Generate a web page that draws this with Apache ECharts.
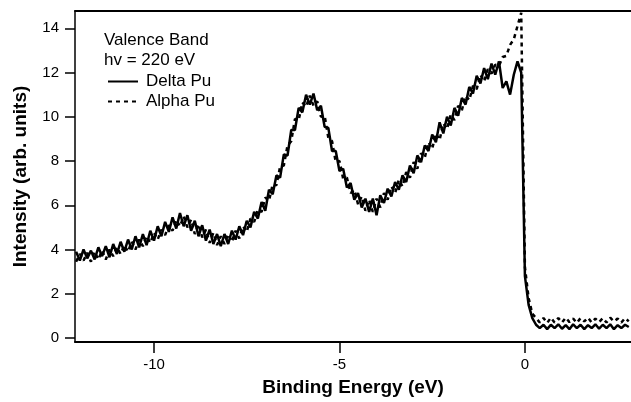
<!DOCTYPE html>
<html>
<head>
<meta charset="utf-8">
<script src="https://cdn.jsdelivr.net/npm/echarts@6/dist/echarts.min.js"></script>
<style>
  html, body { margin: 0; padding: 0; background: #fff; }
  #main { width: 631px; height: 402px; }
</style>
</head>
<body>
<div id="main"></div>
<script>
// binding energy grid (eV)
const energy = [
  -12.1, -12.0, -11.9, -11.8, -11.7, -11.6, -11.5, -11.4, -11.3, -11.2,
  -11.1, -11.0, -10.9, -10.8, -10.7, -10.6, -10.5, -10.4, -10.3, -10.2,
  -10.1, -10.0, -9.9, -9.8, -9.7, -9.6, -9.5, -9.4, -9.3, -9.2,
  -9.1, -9.0, -8.9, -8.8, -8.7, -8.6, -8.5, -8.4, -8.3, -8.2,
  -8.1, -8.0, -7.9, -7.8, -7.7, -7.6, -7.5, -7.4, -7.3, -7.2,
  -7.1, -7.0, -6.9, -6.8, -6.7, -6.6, -6.5, -6.4, -6.3, -6.2,
  -6.1, -6.0, -5.9, -5.8, -5.7, -5.6, -5.5, -5.4, -5.3, -5.2,
  -5.1, -5.0, -4.9, -4.8, -4.7, -4.6, -4.5, -4.4, -4.3, -4.2,
  -4.1, -4.0, -3.9, -3.8, -3.7, -3.6, -3.5, -3.4, -3.3, -3.2,
  -3.1, -3.0, -2.9, -2.8, -2.7, -2.6, -2.5, -2.4, -2.3, -2.2,
  -2.1, -2.0, -1.9, -1.8, -1.7, -1.6, -1.5, -1.4, -1.3, -1.2,
  -1.1, -1.0, -0.9, -0.8, -0.7, -0.6, -0.5, -0.4, -0.3, -0.2,
  -0.1, 0.0, 0.1, 0.2, 0.3, 0.4, 0.5, 0.6, 0.7, 0.8,
  0.9, 1.0, 1.1, 1.2, 1.3, 1.4, 1.5, 1.6, 1.7, 1.8,
  1.9, 2.0, 2.1, 2.2, 2.3, 2.4, 2.5, 2.6, 2.7, 2.8
];

// Delta Pu intensity (solid)
const deltaPu = [
  3.9, 3.5, 4.0, 3.6, 3.95, 3.55, 4.1, 3.7, 4.15, 3.65,
  4.25, 3.8, 4.35, 3.9, 4.45, 4.0, 4.6, 4.1, 4.7, 4.2,
  4.85, 4.4, 5.05, 4.6, 5.25, 4.8, 5.45, 4.95, 5.65, 5.05,
  5.55, 4.85, 5.3, 4.6, 5.1, 4.4, 4.9, 4.25, 4.7, 4.15,
  4.7, 4.25, 4.85, 4.45, 5.05, 4.65, 5.3, 5.0, 5.7, 5.4,
  6.15, 5.75, 6.7, 6.5, 7.35, 7.25, 8.3, 8.25, 9.4, 9.4,
  10.4, 10.2, 11.0, 10.55, 11.05, 10.3, 10.5, 9.55, 9.5, 8.45,
  8.45, 7.55, 7.65, 6.8, 7.0, 6.25, 6.55, 5.9, 6.3, 5.7,
  6.3, 5.55, 6.45, 6.1, 6.75, 6.4, 7.05, 6.7, 7.35, 7.05,
  7.8, 7.45, 8.25, 7.95, 8.7, 8.45, 9.2, 8.85, 9.75, 9.25,
  10.0, 9.6, 10.4, 10.05, 10.85, 10.55, 11.35, 11.05, 11.85, 11.5,
  12.2, 11.7, 12.4, 11.9, 12.5, 11.3, 11.6, 11.0, 11.9, 12.5,
  12.0, 2.8, 1.5, 0.9, 0.6, 0.45, 0.6, 0.4, 0.6, 0.45,
  0.62, 0.42, 0.58, 0.4, 0.62, 0.45, 0.6, 0.4, 0.58, 0.45,
  0.62, 0.42, 0.6, 0.45, 0.62, 0.4, 0.58, 0.45, 0.6, 0.5
];

// Alpha Pu intensity (dashed)
const alphaPu = [
  3.45, 3.8, 3.5, 3.85, 3.45, 3.9, 3.55, 3.95, 3.55, 4.0,
  3.7, 4.1, 3.8, 4.2, 3.9, 4.35, 4.0, 4.45, 4.15, 4.6,
  4.3, 4.75, 4.45, 4.9, 4.65, 5.1, 4.85, 5.35, 5.05, 5.5,
  5.0, 5.35, 4.7, 5.15, 4.55, 4.9, 4.3, 4.75, 4.2, 4.6,
  4.25, 4.7, 4.35, 4.85, 4.5, 5.05, 4.8, 5.4, 5.25, 5.8,
  5.7, 6.35, 6.2, 6.95, 6.9, 7.75, 7.8, 8.7, 8.9, 9.9,
  9.85, 10.65, 10.45, 10.95, 10.5, 10.7, 10.0, 10.05, 9.05, 8.9,
  7.95, 8.0, 7.2, 7.25, 6.55, 6.7, 6.05, 6.4, 5.75, 6.25,
  5.7, 6.3, 5.9, 6.55, 6.25, 6.85, 6.55, 7.15, 6.85, 7.5,
  7.25, 7.95, 7.65, 8.35, 8.15, 8.85, 8.55, 9.25, 8.95, 9.7,
  9.45, 10.1, 9.85, 10.5, 10.3, 10.95, 10.75, 11.4, 11.25, 11.9,
  11.6, 12.15, 11.95, 12.35, 12.3, 12.7, 12.75, 13.25, 13.5, 14.1,
  14.7, 3.2, 1.8, 1.1, 0.9, 0.7, 0.9, 0.68, 0.92, 0.7,
  0.9, 0.7, 0.92, 0.72, 0.88, 0.68, 0.9, 0.75, 0.92, 0.7,
  0.88, 0.72, 0.9, 0.7, 0.92, 0.75, 0.88, 0.7, 0.9, 0.75
];

const xTicks = [-10, -5, 0];
const yTicks = [0, 2, 4, 6, 8, 10, 12, 14];

const font = "'Liberation Sans', Arial, Helvetica, sans-serif";

var chart = echarts.init(document.getElementById("main"));
chart.setOption({
  animation: false,
  backgroundColor: "#fff",
  textStyle: { fontFamily: font, color: "#000" },
  title: {
    text: "Valence Band\nhv = 220 eV",
    left: 104,
    top: 30,
    padding: 0,
    textStyle: { fontFamily: font, fontSize: 17, fontWeight: "normal", color: "#000", lineHeight: 20 }
  },
  legend: {
    orient: "vertical",
    left: 107,
    top: 73,
    padding: 0,
    itemWidth: 30,
    itemHeight: 12,
    itemGap: 3,
    itemStyle: { opacity: 0 },
    lineStyle: { opacity: 1 },
    textStyle: { fontFamily: font, fontSize: 17, color: "#000", padding: [0, 0, 0, 3] },
    data: ["Delta Pu", "Alpha Pu"]
  },
  grid: { left: 75, right: 0, top: 11, bottom: 58, containLabel: false },
  xAxis: [
    {
      type: "value",
      min: -12.13,
      max: 2.86,
      name: "Binding Energy (eV)",
      nameLocation: "middle",
      nameGap: 36,
      nameTextStyle: { fontFamily: font, fontSize: 19, fontWeight: "bold", color: "#000" },
      axisLine: { onZero: false, lineStyle: { color: "#000", width: 2 } },
      axisTick: { customValues: xTicks, length: 11, lineStyle: { color: "#000", width: 1.5 } },
      axisLabel: { customValues: xTicks, margin: 15, fontSize: 15, color: "#000", fontFamily: font },
      splitLine: { show: false }
    },
    {
      type: "value",
      position: "top",
      min: -12.13,
      max: 2.86,
      axisLine: { onZero: false, lineStyle: { color: "#000", width: 2 } },
      axisTick: { show: false },
      axisLabel: { show: false },
      splitLine: { show: false }
    }
  ],
  yAxis: {
    type: "value",
    min: -0.18,
    max: 14.78,
    name: "Intensity (arb. units)",
    nameLocation: "middle",
    nameGap: 45,
    nameTextStyle: { fontFamily: font, fontSize: 19, fontWeight: "bold", color: "#000" },
    axisLine: { show: true, onZero: false, lineStyle: { color: "#000", width: 1.5 } },
    axisTick: { show: true, customValues: yTicks, length: 10, lineStyle: { color: "#000", width: 1.5 } },
    axisLabel: { customValues: yTicks, margin: 16, fontSize: 15, color: "#000", fontFamily: font },
    splitLine: { show: false }
  },
  series: [
    {
      name: "Alpha Pu",
      type: "line",
      symbol: "none",
      data: energy.map((e, i) => [e, alphaPu[i]]),
      lineStyle: { color: "#000", width: 2.5, type: [4, 4] },
      itemStyle: { color: "#000" }
    },
    {
      name: "Delta Pu",
      type: "line",
      symbol: "none",
      data: energy.map((e, i) => [e, deltaPu[i]]),
      lineStyle: { color: "#000", width: 2.5 },
      itemStyle: { color: "#000" }
    }
  ]
});
window.addEventListener("resize", () => {
  chart.resize();
});
</script>
</body>
</html>
